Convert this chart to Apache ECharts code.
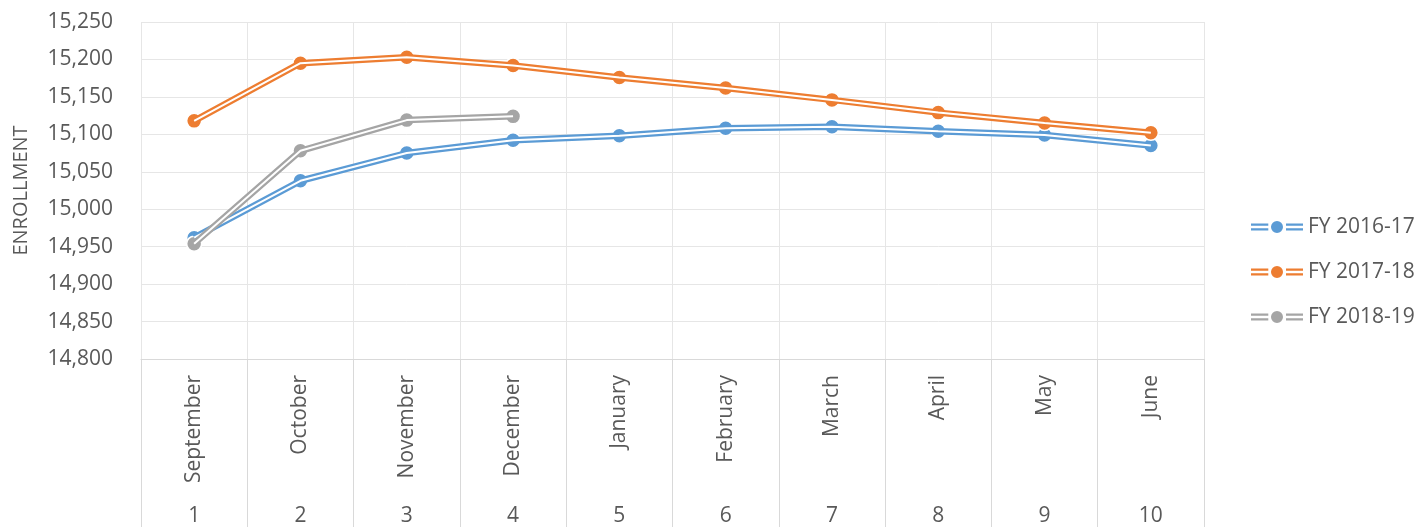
<!DOCTYPE html>
<html>
<head>
<meta charset="utf-8">
<script src="https://cdn.jsdelivr.net/npm/echarts@6/dist/echarts.min.js"></script>
<style>
html,body{margin:0;padding:0;background:#fff;}
#chart{width:1423px;height:527px;}
</style>
</head>
<body>
<div id="chart"></div>
<script>
var months = ['September','October','November','December','January','February','March','April','May','June'];
var monthNumbers = ['1','2','3','4','5','6','7','8','9','10'];
var seriesNames = ['FY 2016-17','FY 2017-18','FY 2018-19'];
var fy1617 = [14962, 15038, 15075, 15092, 15098, 15108, 15110, 15104, 15099, 15085];
var fy1718 = [15118, 15195, 15203, 15192, 15176, 15162, 15146, 15129, 15115, 15102];
var fy1819 = [14954, 15078, 15119, 15124];
var colors = ['#5B9BD5', '#ED7D31', '#A5A5A5'];
var yTicks = {min: 14800, max: 15250, interval: 50};

var FONT = 'Open Sans';
var TEXT = '#595959';
var legendIcon = 'path://M0,2.4H17.3V4.8H0Z M0,7.2H17.3V9.6H0Z M35,2.4H52V4.8H35Z M35,7.2H52V9.6H35Z M20,6A6,6 0 1 0 32,6A6,6 0 1 0 20,6Z';

var allData = [fy1617, fy1718, fy1819];
var series = [];
allData.forEach(function (d, i) {
  series.push({
    name: seriesNames[i], type: 'line', data: d, xAxisIndex: 0,
    symbol: 'none', showSymbol: false,
    itemStyle: {color: colors[i]},
    lineStyle: {width: 6.5, color: colors[i]},
    animation: false
  });
  series.push({
    name: '_w' + i, type: 'line', data: d, xAxisIndex: 0,
    symbol: 'none', showSymbol: false, silent: true,
    lineStyle: {width: 2, color: '#ffffff'},
    animation: false
  });
  series.push({
    name: '_m' + i, type: 'scatter', data: d, xAxisIndex: 0,
    symbol: 'circle', symbolSize: 15,
    itemStyle: {color: colors[i], borderColor: '#ffffff', borderWidth: 1.5, opacity: 1},
    animation: false
  });
});

var chart = echarts.init(document.getElementById('chart'), null, {renderer: 'canvas'});
chart.setOption({
  backgroundColor: '#ffffff',
  animation: false,
  textStyle: {fontFamily: FONT},
  grid: {left: 141, right: 219, top: 22, bottom: 168, containLabel: false},
  legend: {
    orient: 'vertical', left: 1246, top: 210,
    data: seriesNames.map(function (n) { return {name: n, icon: legendIcon}; }),
    itemWidth: 52, itemHeight: 12, itemGap: 21,
    itemStyle: {borderWidth: 0},
    textStyle: {fontFamily: FONT, fontSize: 21, color: TEXT, lineHeight: 24},
    selectedMode: false
  },
  xAxis: [{
    type: 'category', data: months, boundaryGap: true, position: 'bottom',
    axisLine: {show: true, lineStyle: {color: '#d9d9d9', width: 1}},
    axisTick: {show: true, interval: 0, length: 168, lineStyle: {color: '#d9d9d9', width: 1}},
    axisLabel: {rotate: 90, interval: 0, margin: 16, fontFamily: FONT, fontSize: 21, color: TEXT},
    splitLine: {show: true, interval: 0, lineStyle: {color: '#e6e6e6', width: 1}}
  }, {
    type: 'category', data: monthNumbers, boundaryGap: true, position: 'bottom',
    axisLine: {show: false}, axisTick: {show: false}, splitLine: {show: false},
    axisLabel: {interval: 0, margin: 147, fontFamily: FONT, fontSize: 21, color: TEXT}
  }],
  yAxis: {
    type: 'value', min: yTicks.min, max: yTicks.max, interval: yTicks.interval,
    name: 'ENROLLMENT', nameLocation: 'middle', nameGap: 110,
    nameTextStyle: {fontFamily: FONT, fontSize: 20, color: TEXT},
    axisLine: {show: false}, axisTick: {show: false},
    axisLabel: {margin: 28, fontFamily: FONT, fontSize: 21, color: TEXT,
      formatter: function (v) { return v.toLocaleString('en-US'); }},
    splitLine: {show: true, lineStyle: {color: '#e6e6e6', width: 1}}
  },
  series: series
});
</script>
</body>
</html>
